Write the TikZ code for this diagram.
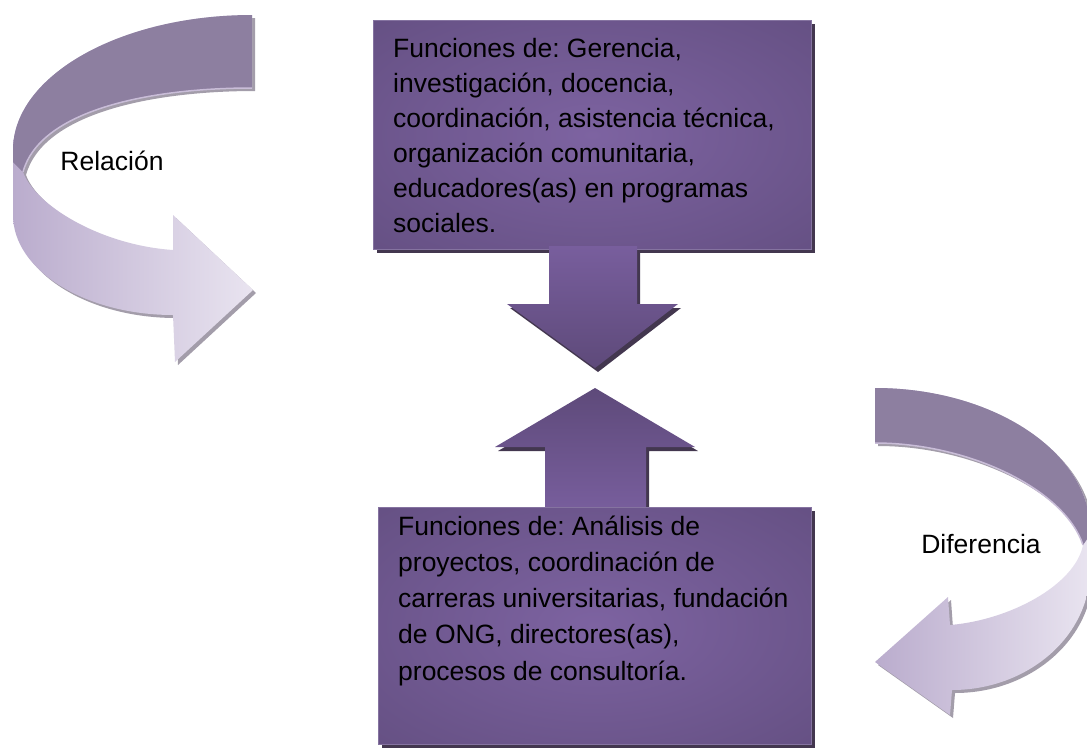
\documentclass[tikz,border=0pt]{standalone}
\usepackage{fontspec}
\setmainfont{Liberation Sans}
\usetikzlibrary{shadows}
\frenchspacing
\definecolor{boxlight}{HTML}{7D63A1}
\definecolor{boxdark}{HTML}{5C4978}
\definecolor{boxedge}{HTML}{8573A0}
\definecolor{boxshadow}{HTML}{43374F}
\definecolor{arrtop}{HTML}{785E9D}
\definecolor{arrbot}{HTML}{5E4A7A}
\definecolor{banddark}{HTML}{8D7FA0}
\definecolor{bandlightL}{HTML}{BAACCD}
\definecolor{bandlightR}{HTML}{E9E4F0}
\definecolor{bandedge}{HTML}{C9BDD8}
\definecolor{curvshadow}{HTML}{A39DAA}
\pgfdeclareradialshading{boxrad}{\pgfpoint{0bp}{0bp}}{color(0bp)=(boxlight); color(50bp)=(boxdark)}
\begin{document}
\begin{tikzpicture}[x=1pt,y=-1pt,
  bigbox/.style={shading=boxrad, draw=boxedge, line width=0.7pt, inner sep=0pt, anchor=north west,
    drop shadow={shadow xshift=4pt, shadow yshift=-4pt, fill=boxshadow, opacity=1}},
  boxtext/.style={font=\fontsize{26.5}{35}\selectfont, align=left, inner sep=0pt, anchor=north west, text=black},
  lbl/.style={font=\fontsize{26.5}{32}\selectfont, inner sep=0pt, anchor=base, text=black},
  arrshadow/.style={fill=boxshadow},
  curvshad/.style={fill=curvshadow},
  curvdark/.style={fill=banddark},
]
\useasboundingbox (0,0) rectangle (1087,748);
\clip (0,0) rectangle (1087,748);

% ---------- left curved arrow (Relacion) ----------
\def\leftfull{(252,15) .. controls (120,15) and (13,76) .. (13,150) -- (13,215) .. controls (13,270) and (85,315) .. (173,315) -- (175,362) -- (253,290) -- (173,215) -- (173,250) .. controls (100,245) and (35,205) .. (23,172) .. controls (40,110) and (150,88) .. (252,88) -- cycle}
\fill[curvshad, shift={(3,3)}] \leftfull;
\shade[left color=bandlightL, right color=bandlightR] \leftfull;
\fill[curvdark] (252,15) .. controls (120,15) and (13,76) .. (13,150) -- (13,162) -- (23,172) .. controls (40,110) and (150,88) .. (252,88) -- cycle;
\draw[bandedge, line width=1.5pt] (23,172) .. controls (40,110) and (150,88) .. (252,88);
\node[lbl] (rel) at (112,170) {Relación};

% ---------- right curved arrow (Diferencia) ----------
\def\rightfull{(875,388) .. controls (993,388) and (1090,452) .. (1090,530) -- (1090,570) .. controls (1090,636) and (1028,690) .. (952,690) -- (950,715) -- (875,662) -- (948,597) -- (950,625) .. controls (1010,620) and (1075,585) .. (1083,545) .. controls (1065,490) and (970,443) .. (875,443) -- cycle}
\fill[curvshad, shift={(3,3)}] \rightfull;
\shade[left color=bandlightL, right color=bandlightR] \rightfull;
\fill[curvdark] (875,388) .. controls (993,388) and (1090,452) .. (1090,530) -- (1090,535) -- (1083,545) .. controls (1065,490) and (970,443) .. (875,443) -- cycle;
\draw[bandedge, line width=1.5pt] (1083,545) .. controls (1065,490) and (970,443) .. (875,443);
\node[lbl] (dif) at (981,553) {Diferencia};

% ---------- top box ----------
\node[bigbox, minimum width=438pt, minimum height=229pt] (topbox) at (373,20) {};
\node[boxtext] (toptext) at (393,32.5) {\strut Funciones de: Gerencia,\\
investigación, docencia,\\
coordinación, asistencia técnica,\\
organización comunitaria,\\
educadores(as) en programas\\
sociales.};

% ---------- down arrow ----------
\fill[arrshadow, shift={(3,4)}] (549,249) -- (637,249) -- (637,304) -- (678,304) -- (595,368) -- (507,304) -- (549,304) -- cycle;
\shade[top color=arrtop, bottom color=arrbot] (549,246) -- (637,246) -- (637,304) -- (678,304) -- (595,368) -- (507,304) -- (549,304) -- cycle;

% ---------- up arrow ----------
\fill[arrshadow, shift={(3,4)}] (545,507) -- (545,447) -- (495,447) -- (595,388) -- (695,447) -- (646,447) -- (646,507) -- cycle;
\shade[top color=arrbot, bottom color=arrtop] (545,512) -- (545,447) -- (495,447) -- (595,388) -- (695,447) -- (646,447) -- (646,512) -- cycle;

% ---------- bottom box ----------
\node[bigbox, minimum width=433pt, minimum height=237pt] (botbox) at (378,507) {};
\node[boxtext, font=\fontsize{26.5}{36.2}\selectfont] (bottext) at (398,509.7) {\strut Funciones de: Análisis de\\
proyectos, coordinación de\\
carreras universitarias, fundación\\
de ONG, directores(as),\\
procesos de consultoría.};
\end{tikzpicture}
\end{document}
